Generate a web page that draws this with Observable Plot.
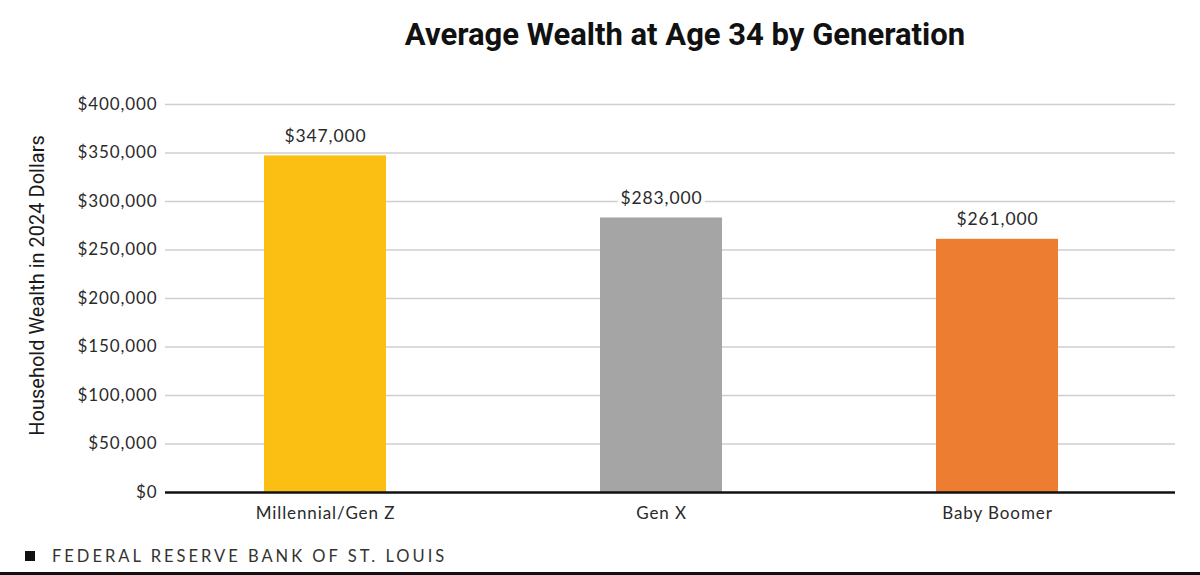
<!DOCTYPE html>
<html>
<head>
<meta charset="utf-8">
<script src="https://cdn.jsdelivr.net/npm/d3@7"></script>
<script src="https://cdn.jsdelivr.net/npm/@observablehq/plot@0.6"></script>
<style>
  html, body { margin: 0; padding: 0; background: #fff; }
  body { width: 1200px; height: 575px; overflow: hidden; position: relative; font-family: Lato, sans-serif; }
  #title { position: absolute; top: 16px; left: 140px; width: 1090px; text-align: center; font-family: Roboto, sans-serif; font-weight: 700; font-size: 31px; color: #111; }
  #chart { position: absolute; top: 70px; left: 0; }
  #footer { position: absolute; top: 546px; left: 25px; font-family: Lato, sans-serif; font-size: 16.5px; letter-spacing: 3px; color: #333; display: flex; align-items: center; }
  #footer .sq { width: 10px; height: 10px; background: #111; margin-right: 17px; }
  #rule { position: absolute; left: 0; top: 572px; width: 1200px; height: 3px; background: #111; }
  #chart svg text { letter-spacing: 0.9px; }
  #chart svg g[aria-label='y-axis label'] text { letter-spacing: 0; }
</style>
</head>
<body>
<div id="title">Average Wealth at Age 34 by Generation</div>
<div id="chart"></div>
<div id="footer"><div class="sq"></div>FEDERAL RESERVE BANK OF ST. LOUIS</div>
<div id="rule"></div>
<script>
const generations = ["Millennial/Gen Z", "Gen X", "Baby Boomer"];
const wealth = [347000, 283000, 261000];
const barColors = ["#FBBF13", "#A5A5A5", "#ED7D31"];
const yTicks = [0, 50000, 100000, 150000, 200000, 250000, 300000, 350000, 400000];

const data = generations.map((g, i) => ({generation: g, wealth: wealth[i], color: barColors[i]}));
const money = d => "$" + d3.format(",")(d);

const chart = Plot.plot({
  width: 1200,
  height: 470,
  marginLeft: 165,
  marginRight: 25,
  marginTop: 34,
  marginBottom: 48,
  style: {fontFamily: "Lato, sans-serif", fontSize: "17px", color: "#2a2a2a", background: "transparent"},
  x: {domain: generations, paddingInner: 0.638, paddingOuter: 0.318, align: 0.458, label: null},
  y: {domain: [0, 400000], label: null},
  marks: [
    Plot.ruleY(yTicks.filter(d => d > 0), {stroke: "#cfcfcf", strokeWidth: 1.3}),
    Plot.barY(data, {x: "generation", y: "wealth", fill: "color"}),
    Plot.text(data, {x: "generation", y: "wealth", text: d => money(d.wealth), dy: -20, fontSize: 17.5, fill: "#2a2a2a", stroke: "white", strokeWidth: 8, paintOrder: "stroke"}),
    Plot.ruleY([0], {stroke: "#111", strokeWidth: 2.5}),
    Plot.axisY({ticks: yTicks, tickFormat: money, tickSize: 0, tickPadding: 8, fontSize: 17,
      label: "Household Wealth in 2024 Dollars", labelAnchor: "center", labelArrow: "none", labelOffset: 136}),
    Plot.axisX({tickSize: 0, tickPadding: 14, fontSize: 17, label: null})
  ]
});
document.getElementById("chart").appendChild(chart);
chart.querySelectorAll("g[aria-label='y-axis label'] text").forEach(t => {
  t.setAttribute("font-size", "20");
  t.style.fontSize = "20px";
  t.style.fontFamily = "Roboto, sans-serif";
  t.style.fill = "#1a1a1a";
  t.setAttribute("transform", t.getAttribute("transform").replace(/translate\(([^,]+),([^)]+)\)/, (m, a, b) => `translate(${a},${+b - 13})`));
});
</script>
</body>
</html>
